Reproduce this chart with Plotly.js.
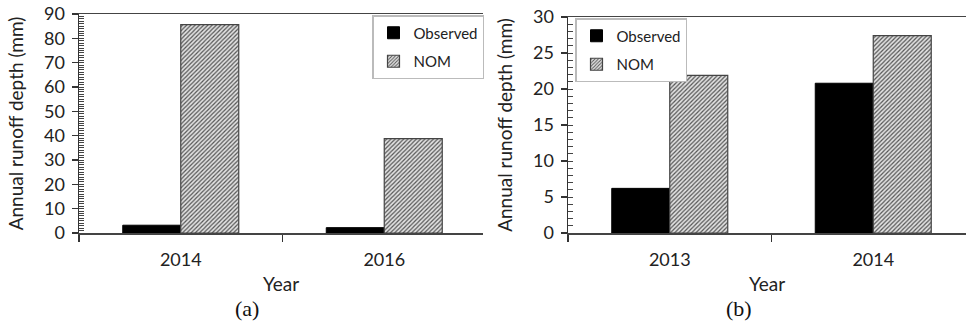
<!DOCTYPE html>
<html>
<head>
<meta charset="utf-8">
<script src="https://cdn.plot.ly/plotly-3.0.1.min.js"></script>
<style>html,body{margin:0;padding:0;background:#fff;}#chart{width:966px;height:325px;}</style>
</head>
<body>
<div id="chart"></div>
<script>
// Panel (a)
const yearsA = ['2014', '2016'];
const observedA = [3.2, 2.2];
const nomA = [85.6, 38.8];
// Panel (b)
const yearsB = ['2013', '2014'];
const observedB = [6.2, 20.8];
const nomB = [21.9, 27.4];
const seriesNames = ['Observed', 'NOM'];
const yTitle = 'Annual runoff depth (mm)';
const xTitle = 'Year';
const panelLabels = ['(a)', '(b)'];

const W = 966, H = 325;
const fam = 'Lato, "Open Sans", sans-serif';
const font = {family: fam, size: 18, color: '#222'};
const titleFont = {family: fam, size: 19, color: '#222'};
const hatch = {shape: '/', fgcolor: '#555', bgcolor: '#e2e2e2', size: 3, solidity: 0.4};

const traces = [
  {type: 'bar', x: yearsA, y: observedA, name: seriesNames[0], xaxis: 'x', yaxis: 'y',
   marker: {color: '#000', line: {color: '#000', width: 1}}, legend: 'legend', legendgroup: 'a1'},
  {type: 'bar', x: yearsA, y: nomA, name: seriesNames[1], xaxis: 'x', yaxis: 'y',
   marker: {color: '#d8d8d8', pattern: hatch, line: {color: '#444', width: 1.2}}, legend: 'legend', legendgroup: 'a2'},
  {type: 'bar', x: yearsB, y: observedB, name: seriesNames[0], xaxis: 'x2', yaxis: 'y2',
   marker: {color: '#000', line: {color: '#000', width: 1}}, legend: 'legend2', legendgroup: 'b1'},
  {type: 'bar', x: yearsB, y: nomB, name: seriesNames[1], xaxis: 'x2', yaxis: 'y2',
   marker: {color: '#d8d8d8', pattern: hatch, line: {color: '#444', width: 1.2}}, legend: 'legend2', legendgroup: 'b2'},
  // invisible helper traces (mode 'none') so the minor-tick overlay axes are drawn
  {type: 'scatter', mode: 'none', x: yearsA, y: nomA, xaxis: 'x', yaxis: 'y3', showlegend: false, hoverinfo: 'skip'},
  {type: 'scatter', mode: 'none', x: yearsB, y: nomB, xaxis: 'x2', yaxis: 'y4', showlegend: false, hoverinfo: 'skip'}
];

function xAxis(domainPx, anchor) {
  const wpx = domainPx[1] - domainPx[0];
  return {
    domain: [domainPx[0] / W, domainPx[1] / W],
    anchor: anchor,
    type: 'category',
    range: [-0.5, -0.5 + wpx / 203.5],
    tickson: 'boundaries',
    ticks: 'outside', ticklen: 7, tickcolor: '#333', tickwidth: 1.5,
    showline: true, linecolor: '#444', linewidth: 1.5,
    mirror: true,
    showgrid: false,
    tickfont: font,
    ticklabelstandoff: 10,
    title: {text: xTitle, font: titleFont, standoff: 8}
  };
}
function yAxis(domainPx, anchor, max, dtick) {
  return {
    domain: [(H - domainPx[1]) / H, (H - domainPx[0]) / H],
    anchor: anchor,
    range: [0, max],
    tickmode: 'linear', tick0: 0, dtick: dtick,
    ticks: 'outside', ticklen: 6, tickcolor: '#333', tickwidth: 1.5,
    showline: true, linecolor: '#333', linewidth: 1.5,
    showgrid: false, zeroline: false,
    tickfont: font,
    ticklabelstandoff: 3,
    title: {text: yTitle, font: titleFont, standoff: 15}
  };
}
// overlay axis drawing the small inside ticks (every 1 unit)
function minorAxis(over, anchor, domain, max) {
  return {
    overlaying: over, anchor: anchor, side: 'left', domain: domain,
    range: [0, max], tickmode: 'linear', tick0: 0, dtick: 1,
    ticks: 'inside', ticklen: 5, tickcolor: '#444', tickwidth: 1,
    showticklabels: false, showline: false, showgrid: false, zeroline: false
  };
}

const legendFont = {family: fam, size: 15, color: '#222'};
const legendBase = {xanchor: 'left', yanchor: 'top', bgcolor: '#fff', bordercolor: '#bbb',
  borderwidth: 1.5, font: legendFont, itemwidth: 30, tracegroupgap: 6};
const yA = yAxis([14, 233], 'x', 90, 10);
const yB = yAxis([17, 233], 'x2', 30, 5);
const layout = {
  width: W, height: H,
  margin: {l: 0, r: 0, t: 0, b: 0},
  paper_bgcolor: '#fff', plot_bgcolor: '#fff',
  font: font,
  barmode: 'group',
  bargap: 0.43,
  bargroupgap: 0,
  xaxis: xAxis([79, 483], 'y'),
  yaxis: yA,
  xaxis2: xAxis([568, 966], 'y2'),
  yaxis2: yB,
  yaxis3: minorAxis('y', 'x', yA.domain, 90),
  yaxis4: minorAxis('y2', 'x2', yB.domain, 30),
  legend: Object.assign({}, legendBase, {x: 372 / W, y: 1 - 15 / H}),
  legend2: Object.assign({}, legendBase, {x: 575 / W, y: 1 - 18 / H}),
  showlegend: true,
  annotations: [
    {text: panelLabels[0], x: 247 / W, y: 1 - 308 / H, xref: 'paper', yref: 'paper',
     xanchor: 'center', yanchor: 'middle',
     showarrow: false, font: {family: '"Liberation Serif", "DejaVu Serif", serif', size: 22, color: '#111'}},
    {text: panelLabels[1], x: 739 / W, y: 1 - 308 / H, xref: 'paper', yref: 'paper',
     xanchor: 'center', yanchor: 'middle',
     showarrow: false, font: {family: '"Liberation Serif", "DejaVu Serif", serif', size: 22, color: '#111'}}
  ]
};

Plotly.newPlot('chart', traces, layout, {displayModeBar: false, staticPlot: true});
</script>
</body>
</html>
